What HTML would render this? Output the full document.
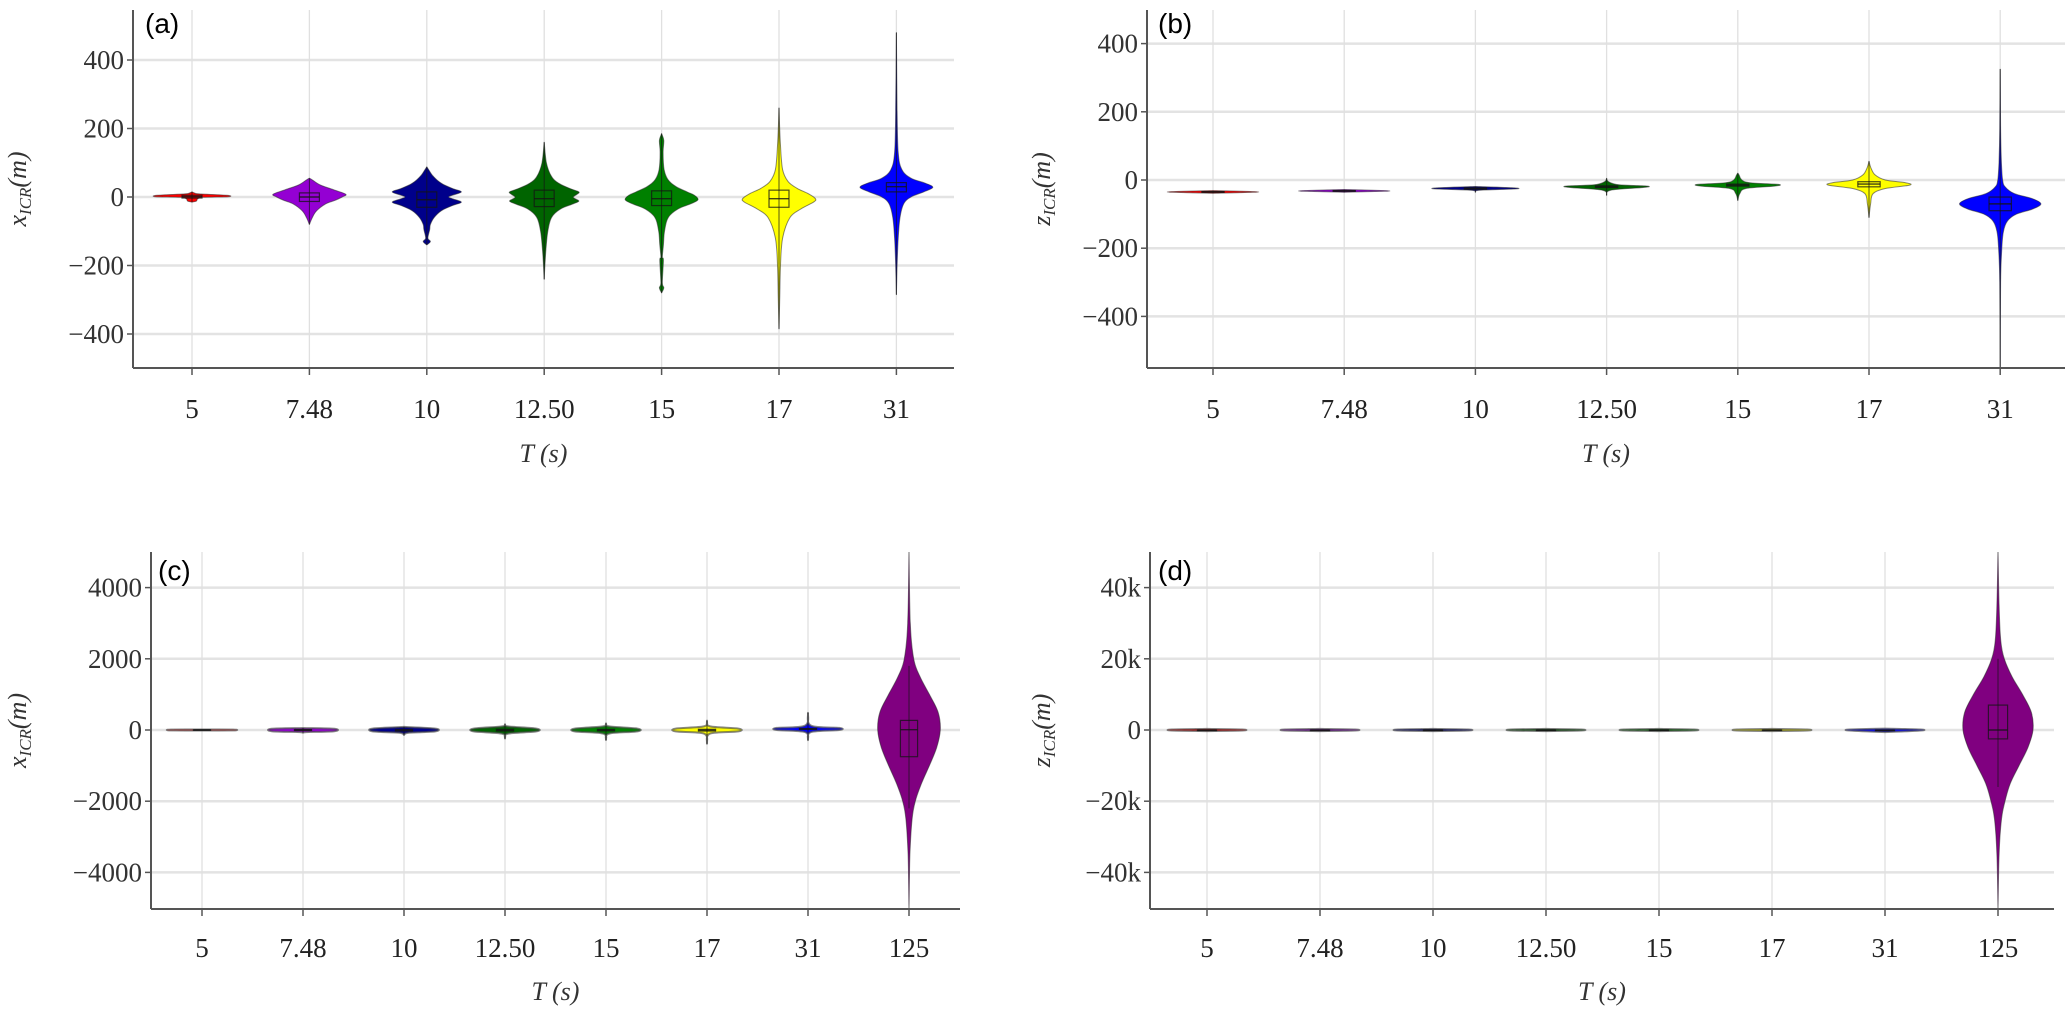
<!DOCTYPE html>
<html><head><meta charset="utf-8"><title>Violin plots</title>
<style>
html,body{margin:0;padding:0;background:#fff;}
svg{display:block;}
text{font-family:"Liberation Serif",serif;}
</style></head>
<body>
<svg id="fig" width="2067" height="1009" viewBox="0 0 2067 1009" xmlns="http://www.w3.org/2000/svg"></svg>
<script>
// ---------- data ----------
const categoriesTop = ['5','7.48','10','12.50','15','17','31'];
const categoriesBottom = ['5','7.48','10','12.50','15','17','31','125'];
const colorsTop = ['#ff0000','#9400d3','#00008b','#006400','#008000','#ffff00','#0000ff'];
const colorsBottom = ['#ff0000','#9400d3','#00008b','#006400','#008000','#ffff00','#0000ff','#800080'];
const yTicksA = [400,200,0,-200,-400];
const yTicksB = [400,200,0,-200,-400];
const yTicksC = [4000,2000,0,-2000,-4000];
const yTicksD = [40000,20000,0,-20000,-40000];
const yTickLabelsA = ['400','200','0','\u2212200','\u2212400'];
const yTickLabelsB = ['400','200','0','\u2212200','\u2212400'];
const yTickLabelsC = ['4000','2000','0','\u22122000','\u22124000'];
const yTickLabelsD = ['40k','20k','0','\u221220k','\u221240k'];

// density profiles: [value, relative density]
const densA = [
 [[-15,0],[-12,0.12],[-6,0.15],[-1,0.3],[1,1],[5,0.95],[9,0.2],[12,0.06],[15,0]],
 [[-80,0],[-60,0.08],[-40,0.2],[-20,0.45],[-10,0.7],[0,0.9],[8,1],[20,0.7],[35,0.3],[50,0.08],[55,0]],
 [[-140,0],[-130,0.1],[-120,0.03],[-95,0.08],[-80,0.1],[-60,0.2],[-40,0.4],[-25,0.7],[-15,0.95],[-5,0.7],[0,0.6],[5,0.7],[15,0.95],[25,0.7],[40,0.4],[60,0.18],[80,0.05],[88,0]],
 [[-240,0],[-200,0.02],[-150,0.05],[-100,0.1],[-60,0.2],[-35,0.45],[-20,0.8],[-12,0.95],[-5,0.85],[0,0.8],[8,0.9],[15,0.95],[25,0.7],[40,0.4],[60,0.2],[100,0.06],[160,0]],
 [[-280,0],[-265,0.06],[-250,0.02],[-185,0.05],[-175,0.02],[-140,0.05],[-100,0.08],[-60,0.18],[-35,0.45],[-20,0.8],[-8,1],[5,0.9],[15,0.7],[30,0.4],[50,0.18],[80,0.07],[130,0.04],[165,0.06],[185,0]],
 [[-385,0],[-300,0.02],[-200,0.04],[-120,0.1],[-60,0.3],[-35,0.6],[-15,0.95],[-5,1],[10,0.8],[25,0.5],[45,0.25],[80,0.1],[150,0.04],[260,0]],
 [[-285,0],[-200,0.02],[-120,0.05],[-60,0.1],[-20,0.2],[0,0.4],[15,0.75],[28,1],[40,0.8],[55,0.4],[80,0.15],[130,0.05],[250,0.02],[480,0]]
];
// box stats: [whiskerLow, q1, median, q3, whiskerHigh]
const boxA = [[-15,-3,1,5,15],[-80,-13,0,12,55],[-140,-30,-8,15,88],[-240,-28,-5,20,160],[-280,-25,-5,18,185],[-385,-30,-5,20,260],[-285,15,30,42,480]];

const densB = [
 [[-39,0],[-36,1],[-34,1],[-31,0]],
 [[-36,0],[-33,1],[-31,1],[-28,0]],
 [[-36,0],[-30,0.1],[-26,1],[-23,0.9],[-19,0]],
 [[-45,0],[-30,0.1],[-22,0.9],[-18,1],[-14,0.3],[-5,0.05],[5,0]],
 [[-60,0],[-40,0.05],[-25,0.2],[-18,0.9],[-13,1],[-8,0.3],[0,0.1],[15,0.03],[20,0]],
 [[-110,0],[-70,0.04],[-40,0.1],[-25,0.4],[-15,1],[-8,0.9],[0,0.4],[15,0.15],[35,0.05],[55,0]],
 [[-560,0],[-300,0.01],[-200,0.04],[-150,0.08],[-120,0.18],[-100,0.4],[-85,0.8],[-70,1],[-55,0.8],[-40,0.35],[-20,0.12],[0,0.06],[50,0.03],[150,0.01],[325,0]]
];
const boxB = [[-39,-36,-35,-34,-31],[-36,-33,-32,-31,-28],[-36,-27,-25,-23,-19],[-45,-22,-20,-17,5],[-60,-18,-15,-12,20],[-110,-20,-12,-5,55],[-560,-90,-70,-50,325]];

const densC = [
 [[-15,0],[-10,1],[10,1],[15,0]],
 [[-80,0],[-60,0.1],[-35,1],[35,1],[55,0]],
 [[-140,0],[-80,0.15],[-40,1],[40,1],[88,0]],
 [[-240,0],[-100,0.1],[-40,1],[40,1],[100,0.1],[160,0]],
 [[-280,0],[-100,0.1],[-40,1],[40,1],[100,0.1],[185,0]],
 [[-385,0],[-100,0.1],[-40,1],[40,1],[100,0.1],[260,0]],
 [[-285,0],[-60,0.1],[0,1],[60,1],[120,0.1],[480,0]],
 [[-5000,0],[-3500,0.03],[-2500,0.1],[-2000,0.2],[-1500,0.4],[-1000,0.65],[-500,0.88],[0,1],[500,0.93],[1000,0.65],[1500,0.35],[2000,0.15],[3000,0.04],[5000,0]]
];
const boxC = [[-15,-3,1,5,15],[-80,-13,0,12,55],[-140,-30,-8,15,88],[-240,-28,-5,20,160],[-280,-25,-5,18,185],[-385,-30,-5,20,260],[-285,15,30,42,480],[-2200,-750,10,270,1800]];

const densD = [
 [[-300,0],[-150,1],[150,1],[300,0]],
 [[-300,0],[-150,1],[150,1],[300,0]],
 [[-300,0],[-150,1],[150,1],[300,0]],
 [[-300,0],[-150,1],[150,1],[300,0]],
 [[-300,0],[-150,1],[150,1],[300,0]],
 [[-300,0],[-150,1],[150,1],[300,0]],
 [[-600,0],[-150,1],[150,1],[400,0]],
 [[-50000,0],[-35000,0.03],[-25000,0.1],[-20000,0.2],[-15000,0.35],[-10000,0.6],[-5000,0.85],[0,1],[5000,0.95],[10000,0.7],[15000,0.4],[20000,0.18],[25000,0.08],[35000,0.03],[50000,0]]
];
const boxD = [[-35,-34,-33,-32,-31],[-33,-32,-31,-30,-29],[-26,-25,-24,-23,-22],[-22,-21,-20,-19,-18],[-17,-16,-15,-14,-13],[-13,-12,-11,-10,-9],[-72,-70,-69,-68,-66],[-16000,-2500,0,7000,20000]];

// ---------- drawing ----------
const NS = 'http://www.w3.org/2000/svg';
const svg = document.getElementById('fig');
function mk(tag, attrs, parent){
  const e = document.createElementNS(NS, tag);
  for (const k in attrs) e.setAttribute(k, attrs[k]);
  (parent||svg).appendChild(e);
  return e;
}
// smooth open curve through points (Catmull-Rom -> cubic Bezier)
function smoothSeg(pts){
  let s = '';
  for (let i = 0; i < pts.length - 1; i++){
    const p0 = pts[Math.max(i-1,0)], p1 = pts[i], p2 = pts[i+1], p3 = pts[Math.min(i+2,pts.length-1)];
    const c1 = [p1[0] + (p2[0]-p0[0])/6, p1[1] + (p2[1]-p0[1])/6];
    const c2 = [p2[0] - (p3[0]-p1[0])/6, p2[1] - (p3[1]-p1[1])/6];
    s += 'C' + c1[0].toFixed(1) + ',' + c1[1].toFixed(1) + ' ' + c2[0].toFixed(1) + ',' + c2[1].toFixed(1) + ' ' + p2[0].toFixed(1) + ',' + p2[1].toFixed(1);
  }
  return s;
}

const panels = [
 {id:'a', left:133, right:954, top:10, bottom:368, y0:197, pxPerUnit:0.3425, x0:192, dx:117.4, cats:categoriesTop, colors:colorsTop, dens:densA, box:boxA, ticks:yTicksA, tlabels:yTickLabelsA, ytitle:'x', titleX:18, labelX:145, labelY:33, tickLabelY:418, axisTitleY:462, small:false},
 {id:'b', left:1147, right:2065, top:10, bottom:368, y0:180, pxPerUnit:0.341, x0:1213, dx:131.2, cats:categoriesTop, colors:colorsTop, dens:densB, box:boxB, ticks:yTicksB, tlabels:yTickLabelsB, ytitle:'z', titleX:1042, labelX:1158, labelY:33, tickLabelY:418, axisTitleY:462, small:false},
 {id:'c', left:151, right:960, top:552, bottom:909, y0:730, pxPerUnit:0.0356, x0:202, dx:101, cats:categoriesBottom, colors:colorsBottom, dens:densC, box:boxC, ticks:yTicksC, tlabels:yTickLabelsC, ytitle:'x', titleX:18, labelX:158, labelY:580, tickLabelY:957, axisTitleY:1000, small:true},
 {id:'d', left:1150, right:2054, top:552, bottom:909, y0:730, pxPerUnit:0.00356, x0:1207, dx:113, cats:categoriesBottom, colors:colorsBottom, dens:densD, box:boxD, ticks:yTicksD, tlabels:yTickLabelsD, ytitle:'z', titleX:1042, labelX:1158, labelY:580, tickLabelY:957, axisTitleY:1000, small:true}
];

panels.forEach(p => {
  const g = mk('g', {});
  
  
  const yS = v => p.y0 - v * p.pxPerUnit;
  const xS = i => p.x0 + i * p.dx;
  const halfW = p.dx * 0.31;

  const clipId = 'clip' + p.id;
  const cp = mk('clipPath', {id: clipId}, g);
  mk('rect', {x:p.left, y:p.top, width:p.right-p.left, height:p.bottom-p.top}, cp);

  p.ticks.forEach((t, i) => {
    const gl = mk('line', {x1:p.left, x2:p.right, y1:yS(t), y2:yS(t), stroke:'#e3e3e3', 'stroke-width':2.5}, g);
    
    
  });
  p.cats.forEach((c, i) => {
    const vl = mk('line', {x1:xS(i), x2:xS(i), y1:p.top, y2:p.bottom, stroke:'#e0e0e0', 'stroke-width':1.3}, g);
    
    
  });

  const vg = mk('g', {'clip-path': 'url(#' + clipId + ')'}, g);
  p.cats.forEach((c, i) => {
    const d = p.dens[i];
    const cx = xS(i);
    const right = d.map(pt => [cx + pt[1]*halfW, yS(pt[0])]);
    const left = d.slice().reverse().map(pt => [cx - pt[1]*halfW, yS(pt[0])]);
    const path = 'M' + right[0][0].toFixed(1) + ',' + right[0][1].toFixed(1) + smoothSeg(right) + smoothSeg(left) + 'Z';
    const vp = mk('path', {d:path, fill:p.colors[i], stroke:'rgba(40,40,40,0.55)', 'stroke-width':1, 'stroke-linejoin':'round'}, vg);
    
    
    if (p.small && i < 7) { vp.setAttribute('stroke', 'rgba(70,70,70,0.65)'); vp.setAttribute('stroke-width', 2); }

    const b = p.box[i];
    const wl = mk('line', {x1:cx, x2:cx, y1:yS(b[0]), y2:yS(b[4]), stroke:'rgba(20,20,20,0.7)', 'stroke-width':1}, vg);
    
    
    const bw = p.dx * 0.085;
    const bt = yS(b[3]), bb = yS(b[1]);
    const br = mk('rect', {x:cx-bw, y:bt, width:2*bw, height:Math.max(bb-bt,0.5), fill:'none', stroke:'rgba(20,20,20,0.75)', 'stroke-width':1.2}, vg);
    
    
    const md = mk('line', {x1:cx-bw, x2:cx+bw, y1:yS(b[2]), y2:yS(b[2]), stroke:'rgba(20,20,20,0.8)', 'stroke-width':1.4}, vg);
    
    
  });

  const ya = mk('line', {x1:p.left, x2:p.left, y1:p.top, y2:p.bottom, stroke:'#555', 'stroke-width':2}, g);
  
  
  const xa = mk('line', {x1:p.left, x2:p.right, y1:p.bottom, y2:p.bottom, stroke:'#555', 'stroke-width':2}, g);
  
  

  p.ticks.forEach((t, i) => {
    mk('line', {x1:p.left-6, x2:p.left, y1:yS(t), y2:yS(t), stroke:'#555', 'stroke-width':1.5}, g);
    const tl = mk('text', {x:p.left-9, y:yS(t)+9, 'text-anchor':'end', 'font-size':27, fill:'#333'}, g);
    tl.textContent = p.tlabels[i];
    
    
  });
  p.cats.forEach((c, i) => {
    mk('line', {x1:xS(i), x2:xS(i), y1:p.bottom, y2:p.bottom+7, stroke:'#555', 'stroke-width':1.5}, g);
    const tl = mk('text', {x:xS(i), y:p.tickLabelY, 'text-anchor':'middle', 'font-size':27, fill:'#222'}, g);
    tl.textContent = c;
    
    
  });

  const xt = mk('text', {x:(p.left+p.right)/2, y:p.axisTitleY, 'text-anchor':'middle', 'font-size':26, 'font-style':'italic', fill:'#333'}, g);
  xt.textContent = 'T (s)';
  
  

  const yc = (p.top + p.bottom) / 2;
  const yt = mk('text', {x:0, y:0, 'text-anchor':'middle', 'font-size':26, 'font-style':'italic', fill:'#333', transform:'translate(' + (p.titleX+8) + ',' + yc + ') rotate(-90)'}, g);
  
  
  const s1 = mk('tspan', {}, yt); s1.textContent = p.ytitle;
  const s2 = mk('tspan', {'font-size':17, dy:5}, yt); s2.textContent = 'ICR';
  const s3 = mk('tspan', {dy:-5}, yt); s3.textContent = '(m)';

  const pl = mk('text', {x:p.labelX, y:p.labelY, 'font-size':28, fill:'#000', style:'font-family:"Liberation Sans",sans-serif'}, g);
  pl.textContent = '(' + p.id + ')';
  
  
});
</script>
</body></html>
